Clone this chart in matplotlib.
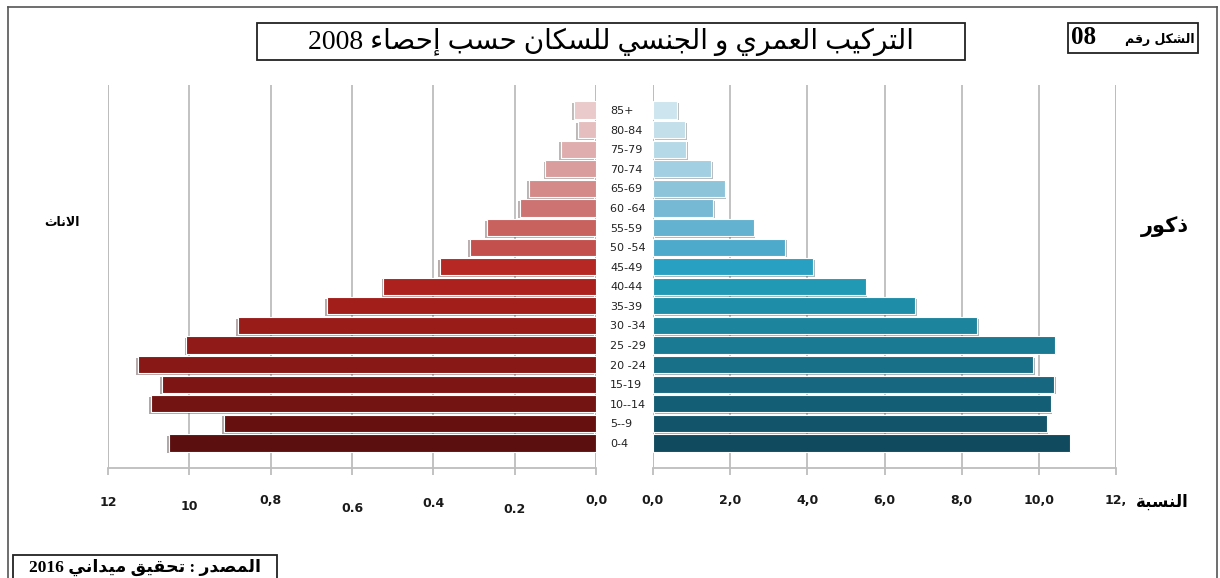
import re
import matplotlib
matplotlib.use('Agg')
import matplotlib.pyplot as plt
from matplotlib import patheffects, transforms
from matplotlib.patches import Rectangle

# age groups, bottom (0-4) to top (85+)
ages = ['0-4', '5--9', '10--14', '15-19', '20 -24', '25 -29', '30 -34', '35-39', '40-44',
        '45-49', '50 -54', '55-59', '60 -64', '65-69', '70-74', '75-79', '80-84', '85+']
females = [10.5, 9.15, 10.95, 10.68, 11.26, 10.07, 8.81, 6.62, 5.23,
           3.84, 3.1, 2.68, 1.87, 1.65, 1.25, 0.86, 0.44, 0.54]
males = [10.8, 10.2, 10.31, 10.4, 9.86, 10.41, 8.41, 6.79, 5.51,
         4.15, 3.42, 2.61, 1.56, 1.86, 1.5, 0.86, 0.83, 0.63]

left_ticks = [12, 10, 8, 6, 4, 2, 0]
left_labels = ['12', '10', '0,8', '0.6', '0.4', '0.2', '0,0']
right_ticks = [0, 2, 4, 6, 8, 10, 12]
right_labels = ['0,0', '2,0', '4,0', '6,0', '8,0', '10,0', '12,']

title = 'التركيب العمري و الجنسي للسكان حسب إحصاء 2008'
fig_num = 'الشكل رقم'
fig_num_digits = '08'
source = 'المصدر : تحقيق ميداني 2016'
female_lbl = 'الاناث'
male_lbl = 'ذكور'
ratio_lbl = 'النسبة'

f_colors = ['#5b0f0f', '#66110f', '#731413', '#7d1514', '#871816', '#901a17', '#991c19',
            '#a21e1b', '#ac211e', '#b52823', '#c4504d', '#c8625f', '#cd7472', '#d38a89',
            '#d99d9d', '#dfadad', '#e5bfbf', '#eacaca']
m_colors = ['#0f4a5e', '#12546a', '#145e75', '#16677f', '#187088', '#1a7a93', '#1c849d',
            '#1e8ea8', '#2198b4', '#28a0c2', '#4eaacb', '#62b2d0', '#76b9d4', '#8dc4da',
            '#a2cfe1', '#b5d9e6', '#c2dfea', '#cde5ee']

# --- minimal Arabic shaping (presentation forms) + visual ordering ---
DUAL = {'ب': 0xFE8F, 'ت': 0xFE95, 'ث': 0xFE99, 'ج': 0xFE9D, 'ح': 0xFEA1, 'خ': 0xFEA5,
        'س': 0xFEB1, 'ش': 0xFEB5, 'ص': 0xFEB9, 'ض': 0xFEBD, 'ط': 0xFEC1, 'ظ': 0xFEC5,
        'ع': 0xFEC9, 'غ': 0xFECD, 'ف': 0xFED1, 'ق': 0xFED5, 'ك': 0xFED9, 'ل': 0xFEDD,
        'م': 0xFEE1, 'ن': 0xFEE5, 'ه': 0xFEE9, 'ي': 0xFEF1}
RIGHT = {'ا': 0xFE8D, 'أ': 0xFE83, 'إ': 0xFE87, 'آ': 0xFE81, 'د': 0xFEA9, 'ذ': 0xFEAB,
         'ر': 0xFEAD, 'ز': 0xFEAF, 'و': 0xFEED, 'ى': 0xFEEF, 'ة': 0xFE93}
LAM_ALEF = {'ا': 0xFEFB, 'أ': 0xFEF7, 'إ': 0xFEF9, 'آ': 0xFEF5}


def ar(text):
    units = []
    i = 0
    while i < len(text):
        c = text[i]
        if c == 'ل' and i + 1 < len(text) and text[i + 1] in LAM_ALEF:
            units.append(('R', LAM_ALEF[text[i + 1]]))
            i += 2
            continue
        if c in DUAL:
            units.append(('D', DUAL[c]))
        elif c in RIGHT:
            units.append(('R', RIGHT[c]))
        elif c == 'ء':
            units.append(('N', 0xFE80))
        else:
            units.append(('N', c))
        i += 1
    out = ''
    for k, (kind, base) in enumerate(units):
        if kind == 'N':
            out += base if isinstance(base, str) else chr(base)
            continue
        prev_j = k > 0 and units[k - 1][0] == 'D'
        next_j = kind == 'D' and k + 1 < len(units) and units[k + 1][0] in ('D', 'R')
        if prev_j and next_j:
            off = 3
        elif next_j:
            off = 2
        elif prev_j:
            off = 1
        else:
            off = 0
        out += chr(base + off)
    tokens = re.findall(r'[0-9]+|[^0-9]+', out)
    return ''.join(t if t.isdigit() else t[::-1] for t in reversed(tokens))


W, H = 1220, 578
fig = plt.figure(figsize=(W / 100, H / 100), dpi=100)


def fx(x):
    return x / W


def fy(y):
    return 1 - y / H


pos = list(range(len(ages)))
ax_l = fig.add_axes([fx(108), fy(468), fx(596) - fx(108), fy(85) - fy(468)])
ax_r = fig.add_axes([fx(653), fy(468), fx(1116) - fx(653), fy(85) - fy(468)])

grid_c = '#bdbdbd'
for ax, vals, cols, sh in [(ax_l, females, f_colors, -1.2), (ax_r, males, m_colors, 1.2)]:
    bars = ax.barh(pos, vals, height=0.88, color=cols, edgecolor='white', linewidth=0.8, zorder=3)
    for b in bars:
        b.set_path_effects([patheffects.SimplePatchShadow(offset=(sh, -1.2), alpha=0.35),
                            patheffects.Normal()])
    ax.set_xlim(0, 12)
    ax.set_ylim(-1.28, 18.28)
    ax.grid(axis='x', color=grid_c, lw=1.3)
    ax.set_axisbelow(True)
    for s in ['top', 'left', 'right']:
        ax.spines[s].set_visible(False)
    ax.spines['bottom'].set_color(grid_c)
    ax.spines['bottom'].set_linewidth(1.3)
    ax.tick_params(axis='x', colors=grid_c, length=5, width=1.3, pad=14)
    ax.axvline(0, color=grid_c, lw=1.3, zorder=1)
    ax.axvline(12, color=grid_c, lw=1.3, zorder=1)

ax_l.invert_xaxis()
ax_l.set_yticks([])
ax_l.set_xticks(left_ticks, left_labels)
ax_r.set_xticks(right_ticks, right_labels)

tick_font = dict(family=['Liberation Sans Narrow', 'DejaVu Sans'], fontsize=9,
                 fontweight='bold', color='#1a1a1a')
# left tick labels sit at slightly staggered heights in the original
stagger = [2, 6, 0, 8, 3, 8.5, 0]
for lab, dy in zip(ax_l.get_xticklabels(), stagger):
    lab.set(**tick_font)
    lab.set_transform(lab.get_transform() +
                      transforms.ScaledTranslation(0, -dy / 100, fig.dpi_scale_trans))
for lab in ax_r.get_xticklabels():
    lab.set(**tick_font)

ax_r.set_yticks(pos, ages)
ax_r.tick_params(axis='y', length=0, pad=31)
for lab in ax_r.get_yticklabels():
    lab.set_ha('left')
    lab.set_fontsize(8)
    lab.set_color('#222222')

# outer frame
fig.add_artist(plt.Line2D([fx(8), fx(8)], [fy(7), 0], color='#555555', lw=1.2))
fig.add_artist(plt.Line2D([fx(8), fx(1217)], [fy(7), fy(7)], color='#555555', lw=1.2))
fig.add_artist(plt.Line2D([fx(1217), fx(1217)], [fy(7), 0], color='#555555', lw=1.2))

# title box
fig.add_artist(Rectangle((fx(257), fy(60)), fx(965) - fx(257), fy(23) - fy(60),
                         fill=False, ec='#222222', lw=1.3))
fig.text(fx(611), fy(42), ar(title), ha='center', va='center', fontsize=20,
         family=['Liberation Serif', 'DejaVu Sans'], color='black')

# figure number box
fig.add_artist(Rectangle((fx(1068), fy(53)), fx(1198) - fx(1068), fy(23) - fy(53),
                         fill=False, ec='#222222', lw=1.3))
fig.text(fx(1071), fy(38), fig_num_digits, ha='left', va='center', fontsize=18,
         fontweight='bold', family=['Liberation Serif', 'DejaVu Sans'])
fig.text(fx(1195), fy(39), ar(fig_num), ha='right', va='center', fontsize=9,
         fontweight='bold')

# side labels
fig.text(fx(62), fy(222), ar(female_lbl), ha='center', va='center', fontsize=9, fontweight='bold')
fig.text(fx(1165), fy(227), ar(male_lbl), ha='center', va='center', fontsize=15, fontweight='bold')
fig.text(fx(1162), fy(502), ar(ratio_lbl), ha='center', va='center', fontsize=12, fontweight='bold')

# source box
fig.add_artist(Rectangle((fx(13), fy(580)), fx(277) - fx(13), fy(555) - fy(580),
                         fill=False, ec='#222222', lw=1.3))
fig.text(fx(145), fy(567), ar(source), ha='center', va='center', fontsize=12.5,
         fontweight='bold', family=['Liberation Serif', 'DejaVu Sans'])

fig.savefig('out.png', dpi=100)
